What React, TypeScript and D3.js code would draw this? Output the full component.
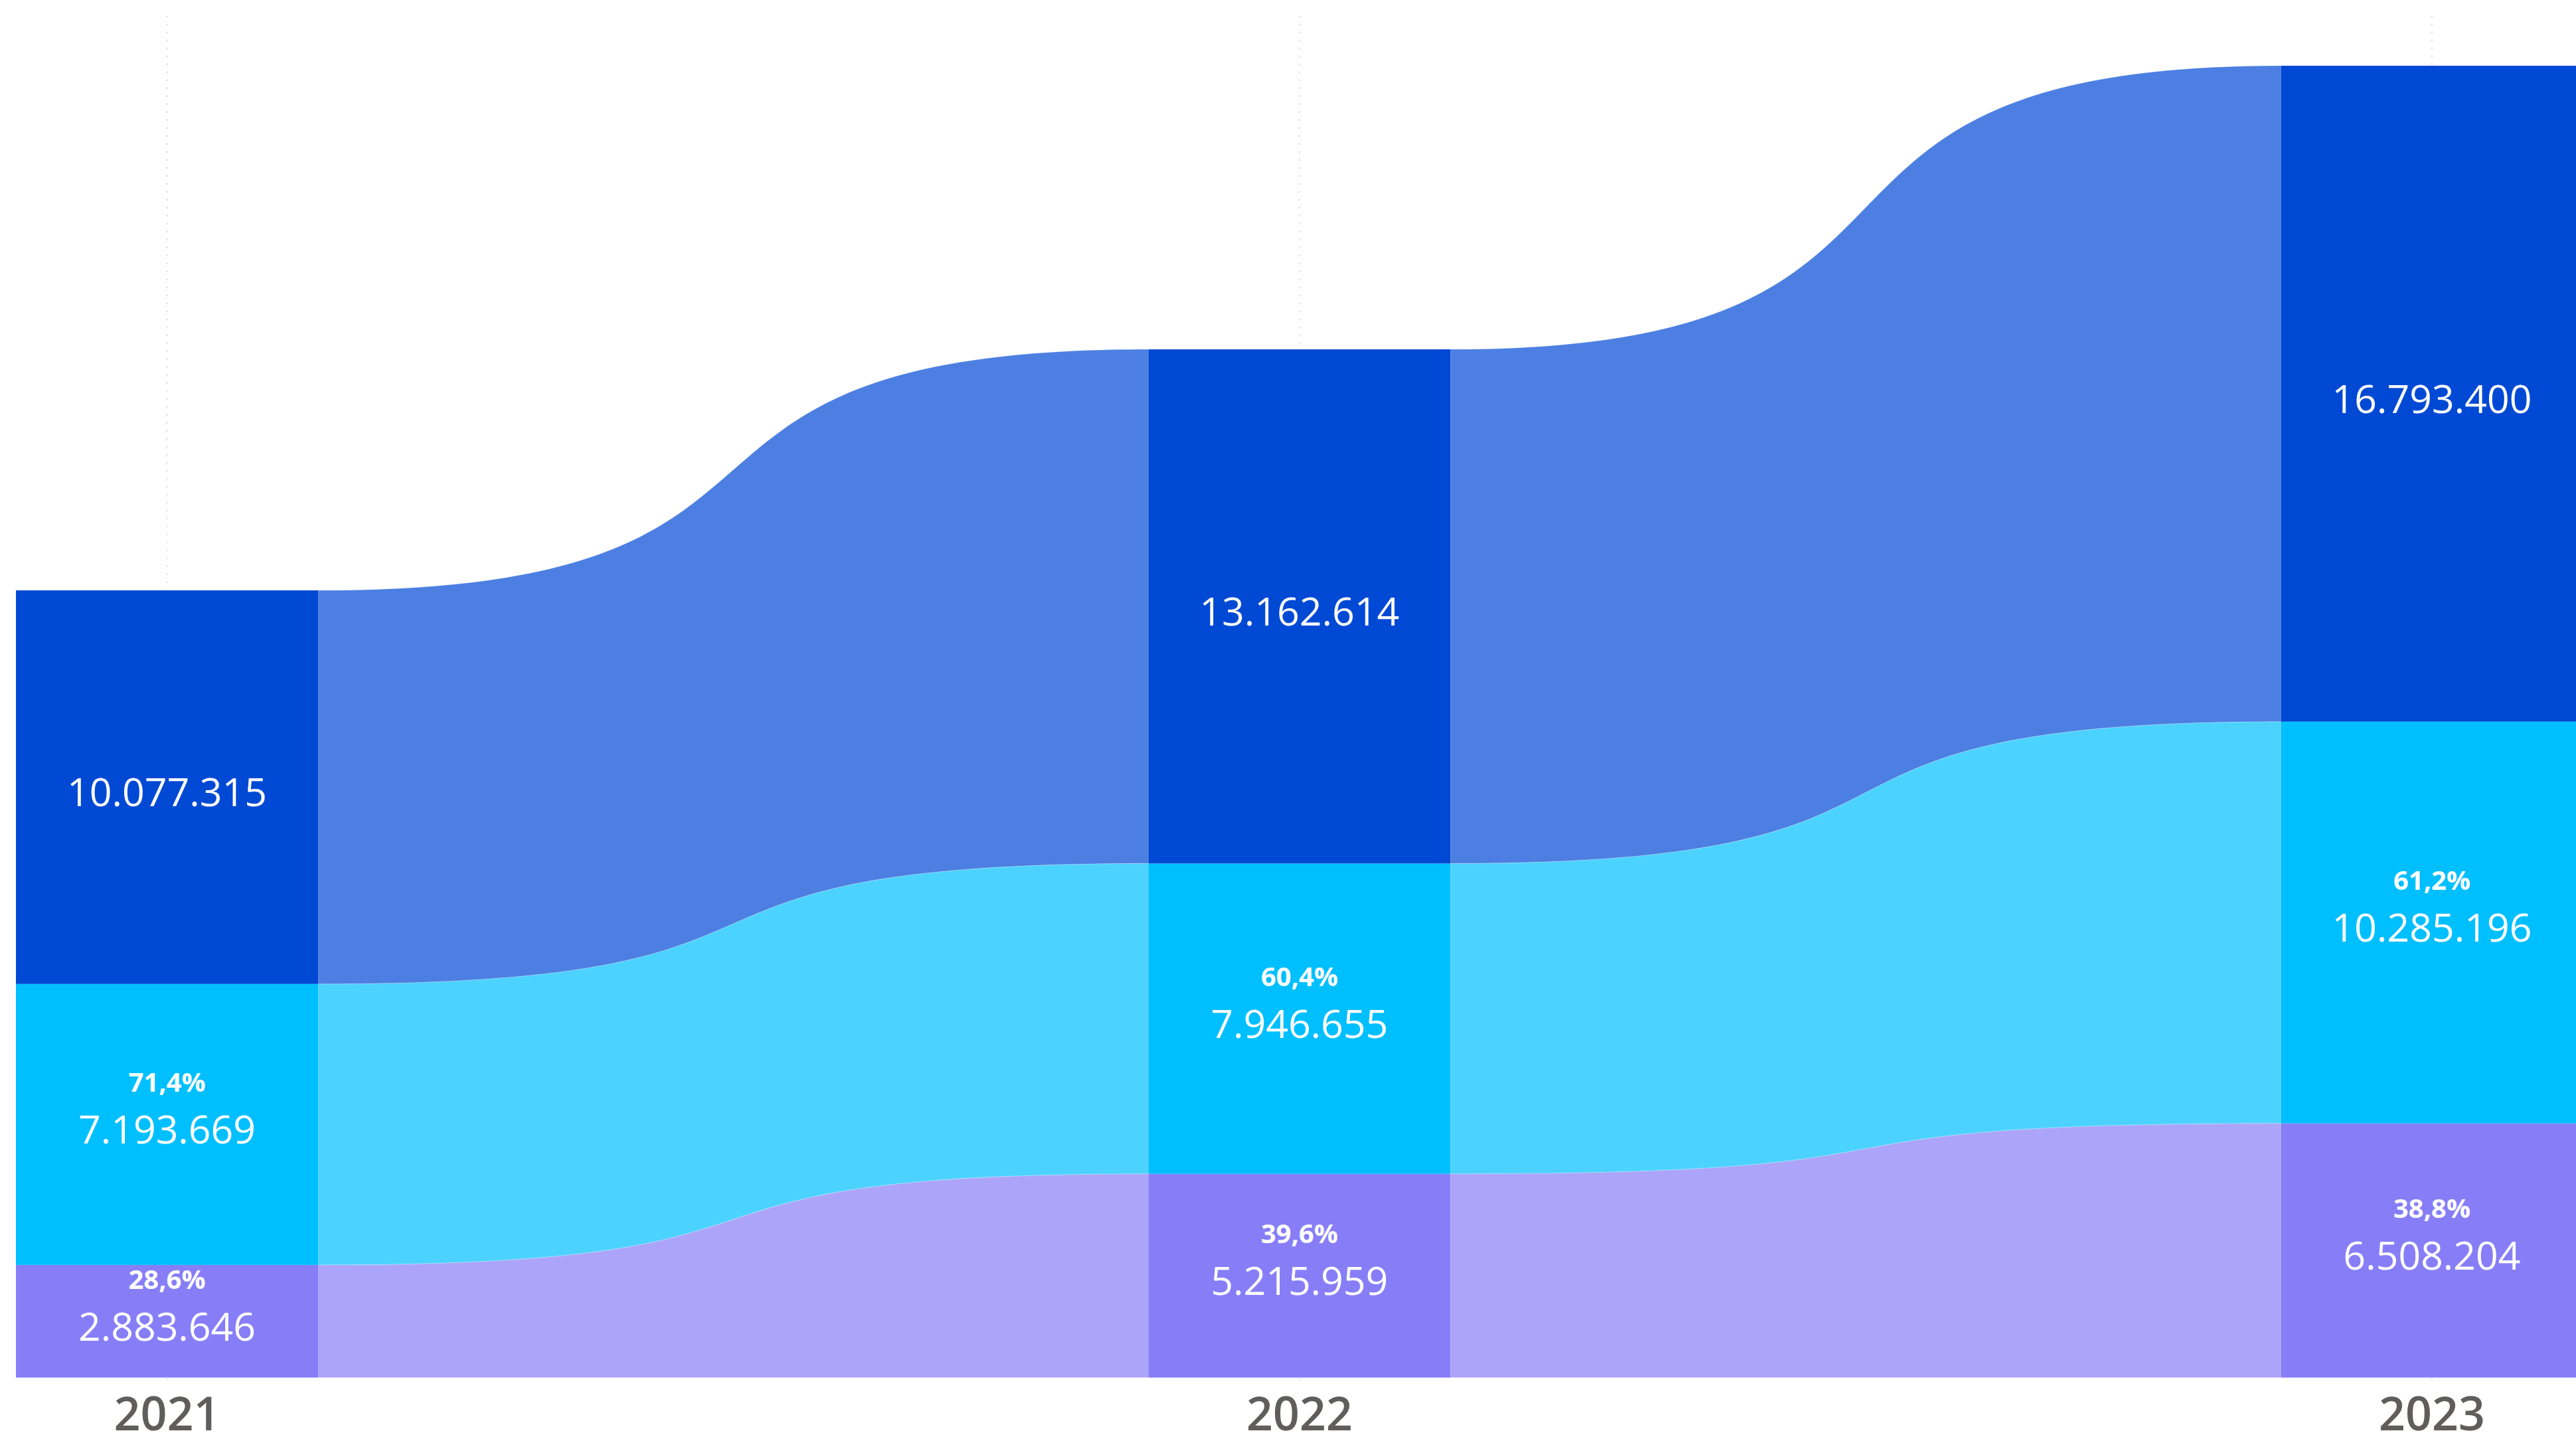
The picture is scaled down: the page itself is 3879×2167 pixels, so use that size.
import React from "react";
import * as d3 from "d3";

const years = ["2021", "2022", "2023"];
const totalValues = [10077315, 13162614, 16793400];
const cyanValues = [7193669, 7946655, 10285196];
const purpleValues = [2883646, 5215959, 6508204];

const seriesNames = ["purple", "cyan", "total"];
const barColors = ["#877EF7", "#00BFFF", "#0049D4"];

const W = 3879;
const H = 2167;

const locale = d3.formatLocale({ decimal: ",", thousands: ".", grouping: [3], currency: ["", ""] });
const fmtNum = locale.format(",d");
const fmtPct = locale.format(".1%");

export default function App() {
  React.useEffect(() => {
    document.body.style.margin = "0";
  }, []);

  const rows = years.map((y, i) => ({
    year: y,
    purple: purpleValues[i],
    cyan: cyanValues[i],
    total: totalValues[i],
  }));
  const stack = d3.stack<any>().keys(seriesNames)(rows);
  const maxStack = d3.max(stack[stack.length - 1], (d) => d[1]) as number;

  const x = d3.scalePoint<string>().domain(years).range([251.5, 3662]);
  const y = d3.scaleLinear().domain([0, maxStack]).range([2074.5, 99]);
  const barW = 455;

  const ribbon = (x0: number, t0: number, b0: number, x1: number, t1: number, b1: number) => {
    const w = x1 - x0;
    const c1 = x0 + (w * 2) / 3;
    const c2 = x1 - (w * 2) / 3;
    const p = d3.path();
    p.moveTo(x0, t0);
    p.bezierCurveTo(c1, t0, c2, t1, x1, t1);
    p.lineTo(x1, b1);
    p.bezierCurveTo(c2, b1, c1, b0, x0, b0);
    p.closePath();
    return p.toString();
  };

  const font = "'Open Sans', 'Noto Sans', sans-serif";

  return (
    <svg width={W} height={H} style={{ display: "block", background: "#fff" }} fontFamily={font}>
      {/* grid lines */}
      {years.map((yr) => (
        <line
          key={"g" + yr}
          x1={x(yr)}
          x2={x(yr)}
          y1={24}
          y2={2080}
          stroke="#c4c4c4"
          strokeWidth={1.6}
          strokeDasharray="1.6 10.4"
        />
      ))}
      {/* ribbons */}
      {stack.map((s, si) =>
        years.slice(0, -1).map((yr, i) => {
          const nx = years[i + 1];
          const x0 = (x(yr) as number) + barW / 2;
          const x1 = (x(nx) as number) - barW / 2;
          return (
            <path
              key={"r" + si + "-" + i}
              d={ribbon(x0, y(s[i][1]), y(s[i][0]), x1, y(s[i + 1][1]), y(s[i + 1][0]))}
              fill={barColors[si]}
              fillOpacity={0.7}
              stroke="#ffffff"
              strokeOpacity={0.25}
              strokeWidth={1}
            />
          );
        })
      )}
      {/* bars */}
      {stack.map((s, si) =>
        s.map((d, i) => (
          <rect
            key={"b" + si + "-" + i}
            x={(x(years[i]) as number) - barW / 2}
            y={y(d[1])}
            width={barW}
            height={y(d[0]) - y(d[1])}
            fill={barColors[si]}
          />
        ))
      )}
      {/* labels */}
      {stack.map((s, si) =>
        s.map((d, i) => {
          const cx = x(years[i]) as number;
          const cy = (y(d[0]) + y(d[1])) / 2;
          const val = d[1] - d[0];
          const isTotal = seriesNames[si] === "total";
          return (
            <g key={"l" + si + "-" + i}>
              {!isTotal && (
                <text
                  x={cx}
                  y={cy + 29 - 78}
                  textAnchor="middle"
                  fill="#ffffff"
                  fontSize={40}
                  fontWeight={700}
                >
                  {fmtPct(val / totalValues[i])}
                </text>
              )}
              <text x={cx} y={cy + 29} textAnchor="middle" fill="#ffffff" fontSize={59}>
                {fmtNum(val)}
              </text>
            </g>
          );
        })
      )}
      {/* x axis labels */}
      {years.map((yr) => (
        <text
          key={"x" + yr}
          x={x(yr)}
          y={2154}
          textAnchor="middle"
          fill="#605E5C"
          fontSize={70}
          fontWeight={600}
        >
          {yr}
        </text>
      ))}
    </svg>
  );
}
